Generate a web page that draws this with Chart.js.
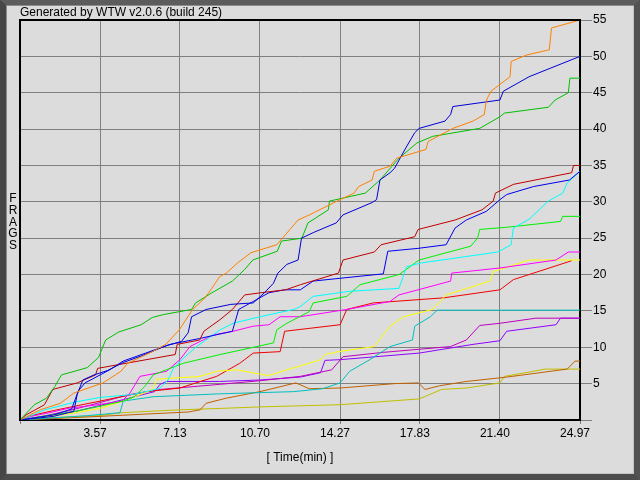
<!DOCTYPE html>
<html><head><meta charset="utf-8">
<script src="https://cdn.jsdelivr.net/npm/chart.js@4/dist/chart.umd.min.js"></script>
<style>
html,body{margin:0;padding:0;background:#dcdcdc;}
#wrap{position:relative;width:640px;height:480px;overflow:hidden;background:#dcdcdc;}
#c{position:absolute;left:0;top:0;}
#frame{position:absolute;left:0;top:0;width:640px;height:480px;box-sizing:border-box;border-style:solid;border-width:5px 6px 6px 6px;border-color:#5c5c5c #525252 #4c4c4c #464646;box-shadow:inset 1px 1px 0 #8c8c8c, inset -1px -1px 0 #c4c4c4;pointer-events:none;}
</style></head>
<body><div id="wrap"><canvas id="c" width="640" height="480"></canvas><div id="frame"></div></div>
<script>
const chartTitle = 'Generated by WTW v2.0.6 (build 245)';
const xTitle = '[ Time(min) ]';
const yTitle = 'FRAGS';
const xTickLabels = ['3.57','7.13','10.70','14.27','17.83','21.40','24.97'];
const yTickLabels = ['5','10','15','20','25','30','35','40','45','50','55'];

const orange = [[0,0],[0.9,1.4],[1.8,2.3],[2.4,3.7],[3.7,5.1],[4.5,6.7],[4.8,7.8],[5.9,9.4],[6.5,10.4],[7.1,12.4],[7.7,15.2],[8.25,16.8],[8.55,18.1],[8.9,19.7],[9.2,20.2],[9.7,21.6],[10.3,23.0],[11.45,24.1],[11.9,25.7],[12.4,27.5],[12.9,28.2],[14.27,30.3],[14.9,31.2],[15.1,32.1],[15.7,33.0],[15.8,34.2],[16.5,34.9],[16.8,36.0],[18.1,37.2],[18.2,38.3],[19.3,40.1],[20.2,41.1],[20.7,42.0],[20.8,44.0],[21.0,45.2],[21.85,47.2],[21.9,49.3],[22.6,50.2],[23.6,50.9],[23.7,53.9],[24.97,55]];
const blueA = [[0,0],[1.5,0.5],[2.4,1.2],[2.55,3.5],[2.8,5.5],[3.3,6.2],[3.9,6.8],[4.6,7.9],[5.4,8.8],[6.5,10.2],[7.2,10.8],[7.5,12],[7.65,14.2],[8.3,15.2],[9.4,15.9],[10.4,16.1],[10.9,17.5],[11.3,18.8],[11.5,20.2],[11.9,21.4],[12.4,22.0],[12.55,25],[13.1,25.8],[14.1,27.1],[14.4,28.2],[15.7,29.9],[15.9,30.3],[16.05,33],[16.5,34],[16.7,34.6],[17.2,37.4],[17.6,39.5],[17.8,40.1],[18.95,41.1],[19.2,42],[19.3,43.1],[21.4,44],[21.55,45.2],[22.7,47.2],[24.97,50]];
const green = [[0,0],[0.64,2.1],[1.18,3],[1.55,4.6],[1.85,6.2],[3.0,7.2],[3.5,8.6],[3.82,11],[4.4,12.1],[5.4,13.1],[5.9,14.1],[6.4,14.5],[7.65,15.2],[7.83,16.1],[8.56,17.5],[9.47,19.1],[10.02,20.7],[10.38,22],[11.47,23.2],[11.66,24.6],[12.57,25],[12.84,27.1],[13.75,28.9],[13.8,30.1],[15.4,31.2],[16.05,33],[16.9,36],[17.7,38.1],[18.4,39],[20.5,40.1],[21.4,41.7],[21.6,42.2],[23.56,43],[23.86,44],[24.45,45],[24.52,47],[24.97,47]];
const darkRed = [[0,0],[0.27,0.7],[1.09,2.1],[1.46,4.2],[2.55,5.1],[3.37,6.2],[3.46,7.1],[4.73,7.8],[6.92,9],[7.01,10.4],[8.01,11],[8.2,12.2],[8.92,13.8],[9.47,15.2],[10.02,17.2],[10.75,17.5],[11.84,17.9],[12.5,18.6],[14.2,20.2],[14.4,22],[15.8,23.1],[16.1,24.1],[17.6,25.2],[17.75,26.2],[19.4,27.5],[20.6,28.9],[21.1,30.1],[21.2,31.2],[22.0,32.4],[24.6,34],[24.68,35],[24.97,35]];
const blueB = [[0,0],[1.5,0.7],[2.3,1.5],[2.6,4],[2.9,5.1],[4.0,6.9],[4.6,8.1],[5.6,9.2],[6.7,10.4],[8.0,11.2],[9.47,12.2],[9.75,15.2],[10.4,16.3],[11.1,17.5],[11.8,17.9],[12.5,17.9],[13.07,19.1],[14.0,19.4],[16.2,20.1],[16.4,23.2],[17.75,23.6],[19.0,24.1],[19.4,26.4],[19.9,27.5],[20.8,28.7],[21.4,30.3],[21.7,31],[22.9,32.1],[24.5,33],[24.97,34.2]];
const cyan = [[0,0],[0.5,0.6],[1.1,1.4],[2.5,2.5],[3.57,3.1],[5.0,3.5],[6.2,4.3],[6.6,5.5],[6.84,7.1],[7.36,8.7],[7.88,10.1],[8.92,12.4],[9.5,13.3],[10.7,14.2],[12.2,15.2],[12.5,15.6],[13.07,17],[14.7,17.7],[16.9,18.1],[17.24,21.1],[17.9,21.6],[19.5,22.3],[21.3,23.1],[21.9,24.1],[22.0,26.4],[22.7,27.6],[23.56,30.1],[24.2,31.2],[24.4,32.6],[24.97,34.2]];
const lime = [[0,0],[1,0.5],[2.5,1.2],[3.57,1.9],[4.6,2.6],[5.1,3.2],[5.56,4.6],[5.94,6.2],[7.28,7.8],[8.92,9.0],[10.26,9.9],[11.3,10.6],[11.45,12.4],[11.9,13.3],[12.9,14.9],[13.07,16.1],[14.57,17],[15.16,18.6],[16.9,20],[17.4,21.1],[17.8,22],[20.1,23.9],[20.4,25],[20.5,26.2],[21.7,26.5],[24.1,27.3],[24.2,28],[24.97,28]];
const magenta = [[0,0],[0.5,0.5],[1.3,1.0],[2.14,1.6],[3.46,2.1],[4.55,2.6],[4.9,3.7],[5.35,6],[6.54,6.7],[7.13,8.3],[7.58,10.1],[8.03,10.8],[8.62,11.7],[9.5,12.2],[10.4,12.9],[11.1,13.1],[11.6,14.2],[12.5,14.2],[14.57,15.2],[16.5,16.3],[16.9,17.2],[19.2,19.1],[19.25,20.2],[21.4,20.9],[23.9,22],[24.45,23.1],[24.97,23.1]];
const yellow = [[0,0],[1,0.4],[2.5,1.0],[3.57,1.6],[4.5,2.5],[5.3,3.4],[5.9,4.2],[6.1,5.6],[8.03,6.0],[8.77,6.7],[9.66,6.9],[11.07,6.1],[11.9,6.9],[12.9,7.8],[13.4,8.3],[13.6,9],[14.2,9.4],[15.8,10.1],[16.5,12.9],[17.1,14.2],[18.4,15.2],[19.0,17.2],[20.96,19.1],[21.1,20.4],[22.7,22],[24.97,22]];
const red = [[0,0],[0.5,0.6],[1.5,1.3],[2.6,2.0],[3.57,2.6],[4.5,3.2],[5.65,3.9],[7.13,4.4],[8.77,6],[9.8,7.8],[10.4,9.2],[11.6,9.4],[11.8,12.2],[12.9,12.6],[14.27,13.1],[14.57,15.2],[15.75,16.1],[18.9,16.8],[21.4,17.9],[22.0,19.3],[24.6,21.9]];
const teal = [[0,0],[1.5,0.3],[3.0,0.6],[4.46,1.0],[4.6,2.6],[5.94,3.2],[8.9,3.6],[12.2,3.9],[13.5,4.3],[14.27,5.1],[14.7,6.7],[15.6,8.3],[16.5,10.1],[17.5,11],[17.6,12.9],[18.3,14.2],[18.6,15.1],[24.97,15.1]];
const purple = [[0,0],[1.0,0.5],[2.2,1.3],[3.57,2.4],[4.4,3.1],[4.9,3.5],[6.24,4.2],[8.9,4.9],[10.7,5.4],[12.5,6.0],[13.9,6.9],[14.4,8.7],[16.2,9.3],[19.2,10.1],[19.9,11],[20.5,13],[21.4,13.3],[23.0,14],[24.97,14]];
const violet = [[0,0],[1.0,0.4],[2.5,1.2],[3.57,2.0],[4.6,2.8],[6.0,3.9],[6.24,4.9],[6.54,5.3],[8.9,5.3],[10.7,5.5],[12.5,5.9],[13.4,6.5],[13.6,8.2],[14.3,8.3],[17.8,9.2],[20.2,10.4],[21.4,10.9],[21.7,12.2],[23.9,13.1],[24.1,14],[24.97,14]];
const brown = [[0,0],[1.5,0.2],[3.57,0.5],[5.5,0.8],[7.5,1.1],[8.03,1.4],[8.3,2.3],[9.2,3.0],[10.7,3.9],[12.3,5.1],[12.9,4.3],[14.27,4.4],[16.7,5.0],[17.76,5.1],[18.06,4.2],[18.7,4.7],[19.9,5.3],[21.7,5.9],[24.4,7.0],[24.75,8.1],[24.97,8.1]];
const olive = [[0,0],[2,0.4],[3.57,0.6],[4.5,1.0],[7.13,1.4],[9,1.6],[10.7,1.8],[14.27,2.1],[17.8,2.9],[18.8,4.2],[19.9,4.4],[21.4,5.1],[21.6,6.0],[22.9,6.7],[23.4,7.0],[24.97,7.0]];

const series = [
  ['Orange', orange, '#ff8000'],
  ['Blue A', blueA, '#0000d8'],
  ['Green', green, '#00c000'],
  ['Dark red', darkRed, '#c00000'],
  ['Blue B', blueB, '#0000f0'],
  ['Cyan', cyan, '#00ffff'],
  ['Lime', lime, '#00f000'],
  ['Magenta', magenta, '#ff00ff'],
  ['Yellow', yellow, '#ffff00'],
  ['Red', red, '#f00000'],
  ['Teal', teal, '#00c0c0'],
  ['Purple', purple, '#c000c0'],
  ['Violet', violet, '#9000ff'],
  ['Brown', brown, '#c06000'],
  ['Olive', olive, '#c0c000']
];

const FONT = {family: '"Liberation Sans", Arial, sans-serif', size: 12, weight: 'normal'};

const extras = {
  id: 'extras',
  beforeDraw(chart) {
    const ctx = chart.ctx;
    ctx.save(); ctx.fillStyle = '#dcdcdc'; ctx.fillRect(0, 0, chart.width, chart.height); ctx.restore();
  },
  afterDraw(chart) {
    const ctx = chart.ctx, a = chart.chartArea;
    ctx.save();
    ctx.strokeStyle = '#000'; ctx.lineWidth = 2;
    ctx.beginPath(); ctx.moveTo(a.left, a.bottom); ctx.lineTo(a.left, a.top); ctx.lineTo(a.right, a.top); ctx.stroke();
    ctx.fillStyle = '#000';
    ctx.font = '12px "Liberation Sans", Arial, sans-serif';
    ctx.textAlign = 'center'; ctx.textBaseline = 'middle';
    yTitle.split('').forEach((ch, i) => ctx.fillText(ch, 13, 199 + i * 11.7));
    ctx.restore();
  }
};

new Chart(document.getElementById('c'), {
  type: 'line',
  data: {
    datasets: series.map(([name, pts, col]) => ({
      label: name,
      data: pts.map(([x, y]) => ({x, y})),
      borderColor: col,
      backgroundColor: col,
      borderWidth: 1,
      pointRadius: 0,
      tension: 0,
      fill: false
    }))
  },
  options: {
    responsive: false,
    animation: false,
    devicePixelRatio: 1,
    layout: {padding: {left: 20, top: 0, right: 0, bottom: 0}},
    plugins: {
      legend: {display: false},
      tooltip: {enabled: false},
      title: {display: true, text: chartTitle, align: 'start', color: '#000',
        font: Object.assign({}, FONT, {lineHeight: 1}), padding: {top: 7, bottom: 1}}
    },
    scales: {
      x: {
        type: 'linear', position: 'bottom', min: 0, max: 24.97,
        afterBuildTicks: s => { s.ticks = [0].concat(xTickLabels.map(Number)).map(v => ({value: v})); },
        afterFit: s => { s.height = 60; },
        ticks: {autoSkip: false, maxRotation: 0, minRotation: 0, color: '#000', font: FONT, padding: 2, labelOffset: -5,
          callback: (v, i) => i === 0 ? '' : xTickLabels[i - 1]},
        grid: {color: '#808080', lineWidth: 1, tickLength: 4},
        border: {display: true, color: '#000', width: 2},
        title: {display: true, text: xTitle, color: '#000', font: FONT, padding: {top: 4, bottom: 15}}
      },
      y: {
        type: 'linear', position: 'right', min: 0, max: 55,
        afterBuildTicks: s => { s.ticks = [0].concat(yTickLabels.map(Number)).map(v => ({value: v})); },
        afterFit: s => { s.width = 60; },
        ticks: {color: '#000', font: FONT, padding: 1,
          callback: (v, i) => i === 0 ? '' : yTickLabels[i - 1]},
        grid: {color: '#808080', lineWidth: 1, tickLength: 12},
        border: {display: true, color: '#000', width: 2}
      }
    }
  },
  plugins: [extras]
});
</script>
</body></html>
